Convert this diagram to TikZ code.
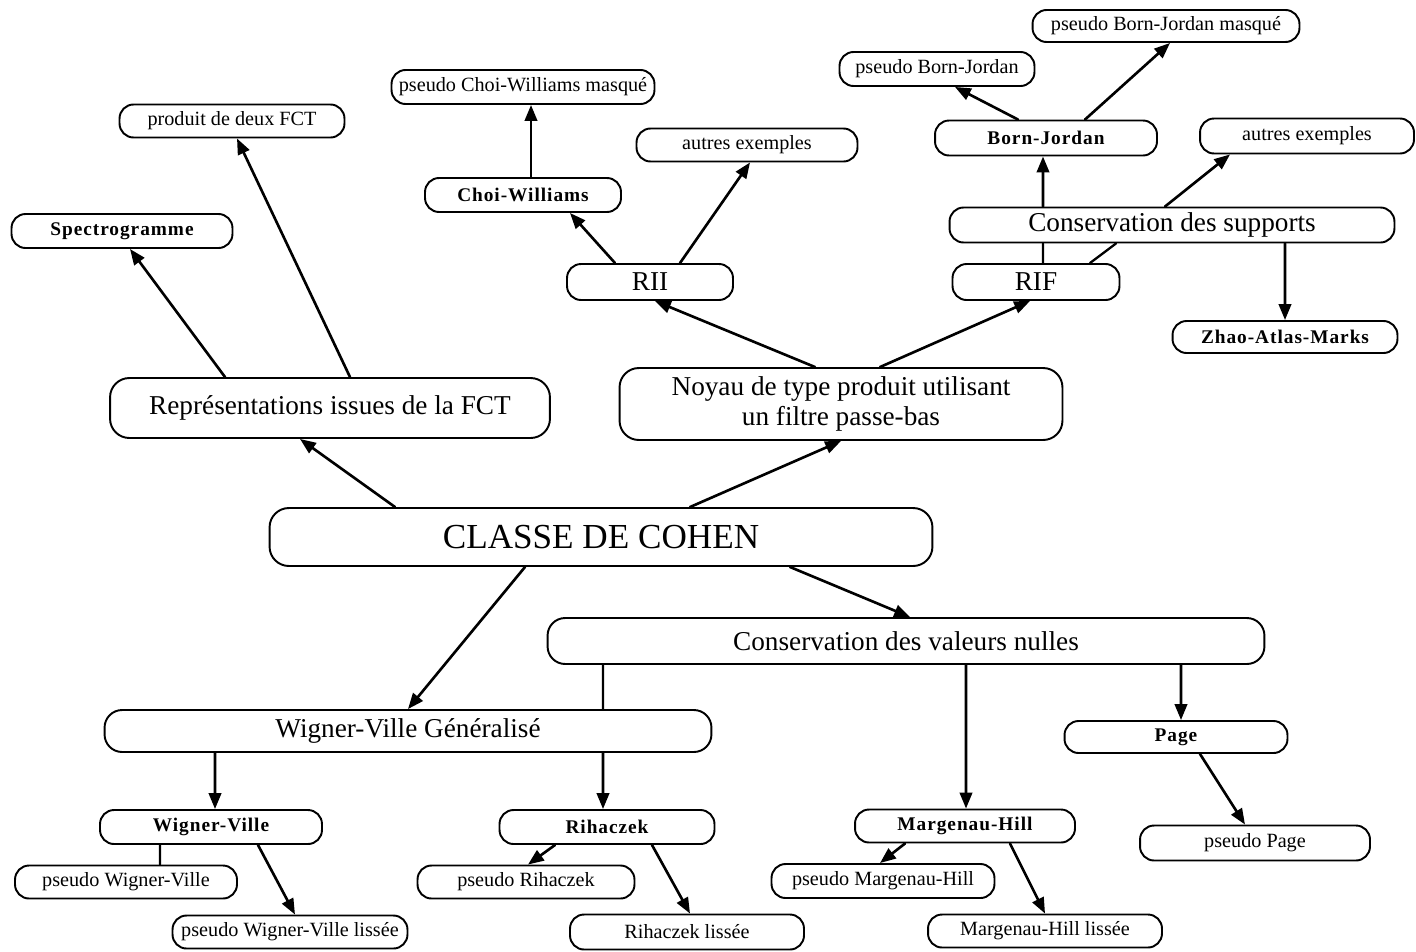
\documentclass[tikz,border=0pt]{standalone}
\usepackage{fontspec}
\setmainfont{Liberation Serif}
\newfontfamily\grasfont[LetterSpace=5]{Liberation Serif}
\usetikzlibrary{arrows.meta}

\tikzset{
	boite/.style={draw,line width=1.1pt,rounded corners=8pt,fill=white,inner sep=0pt,align=center},
	petit/.style={boite,font=\fontsize{11.5}{13}\selectfont},
	gras/.style={boite,font=\grasfont\bfseries\fontsize{11}{13}\selectfont},
	grand/.style={boite,font=\fontsize{15.5}{17.5}\selectfont},
	fleche/.style={-{Triangle[length=9pt,width=7pt]},line width=1.5pt},
	trait/.style={line width=1.3pt}
}

\begin{document}
\begin{tikzpicture}[line cap=round,line join=round,x=0.02cm,y=-0.02cm]
			\useasboundingbox (0,0) rectangle (1416,951);
			%%%%%%%%%%%%%%% B O I T E S %%%%%%%%%%%%%%%%
			%racine
			\node[grand,font=\fontsize{20}{22}\selectfont,minimum width=13.26cm,minimum height=1.16cm,rounded corners=11pt] (cohen) at (601,537) {CLASSE DE COHEN};
			%niveau 1
			\node[grand,minimum width=8.8cm,minimum height=1.2cm,rounded corners=11pt] (rep) at (330,408) {Représentations issues de la FCT};
			\node[grand,minimum width=8.86cm,minimum height=1.44cm,rounded corners=11pt] (noyau) at (841,404) {Noyau de type produit utilisant\\un filtre passe-bas};
			\node[grand,minimum width=14.34cm,minimum height=0.92cm,rounded corners=10pt] (vn) at (906,641) {Conservation des valeurs nulles};
			\node[grand,minimum width=12.14cm,minimum height=0.84cm,rounded corners=10pt] (wvg) at (408,731) {Wigner-Ville Généralisé};
			%FCT
			\node[gras,minimum width=4.42cm,minimum height=0.68cm] (spec) at (122,231) {Spectrogramme};
			\node[petit,minimum width=4.5cm,minimum height=0.66cm] (prod) at (232,121) {produit de deux FCT};
			%RII
			\node[grand,minimum width=3.32cm,minimum height=0.72cm] (rii) at (650,282) {RII};
			\node[gras,minimum width=3.92cm,minimum height=0.68cm] (cw) at (523,195) {Choi-Williams};
			\node[petit,minimum width=5.26cm,minimum height=0.68cm] (pcwm) at (523,87) {pseudo Choi-Williams masqué};
			\node[petit,minimum width=4.42cm,minimum height=0.66cm] (ae1) at (747,145) {autres exemples};
			%RIF
			\node[grand,minimum width=3.34cm,minimum height=0.72cm] (rif) at (1036,282) {RIF};
			\node[grand,minimum width=8.9cm,minimum height=0.7cm] (cs) at (1172,225) {Conservation des supports};
			\node[gras,minimum width=4.44cm,minimum height=0.7cm] (bj) at (1046,138) {Born-Jordan};
			\node[petit,minimum width=3.9cm,minimum height=0.68cm] (pbj) at (937,69) {pseudo Born-Jordan};
			\node[petit,minimum width=5.34cm,minimum height=0.64cm] (pbjm) at (1166,26) {pseudo Born-Jordan masqué};
			\node[petit,minimum width=4.28cm,minimum height=0.7cm] (ae2) at (1307,136) {autres exemples};
			\node[gras,minimum width=4.5cm,minimum height=0.64cm] (zam) at (1285,337) {Zhao-Atlas-Marks};
			%valeurs nulles
			\node[gras,minimum width=4.46cm,minimum height=0.64cm] (page) at (1176,737) {Page};
			\node[petit,minimum width=4.6cm,minimum height=0.7cm] (ppage) at (1255,843) {pseudo Page};
			\node[gras,minimum width=4.4cm,minimum height=0.66cm] (mh) at (965,826) {Margenau-Hill};
			\node[petit,minimum width=4.46cm,minimum height=0.68cm] (pmh) at (883,881) {pseudo Margenau-Hill};
			\node[petit,minimum width=4.68cm,minimum height=0.66cm] (mhl) at (1045,931) {Margenau-Hill lissée};
			\node[gras,minimum width=4.3cm,minimum height=0.68cm] (rih) at (607,827) {Rihaczek};
			\node[petit,minimum width=4.34cm,minimum height=0.66cm] (prih) at (526,882) {pseudo Rihaczek};
			\node[petit,minimum width=4.68cm,minimum height=0.7cm] (rihl) at (687,932) {Rihaczek lissée};
			%Wigner-Ville
			\node[gras,minimum width=4.44cm,minimum height=0.68cm] (wv) at (211,827) {Wigner-Ville};
			\node[petit,minimum width=4.44cm,minimum height=0.66cm] (pwv) at (126,882) {pseudo Wigner-Ville};
			\node[petit,minimum width=4.7cm,minimum height=0.66cm] (pwvl) at (290,932) {pseudo Wigner-Ville lissée};
			%%%%%%%%%%%%%%% F L E C H E S %%%%%%%%%%%%%%%%
			%cohen
			\draw[fleche] ([xshift=-4.12cm]cohen.north) -- ([xshift=-0.6cm]rep.south);
			\draw[fleche] ([xshift=1.78cm]cohen.north) -- (noyau.south);
			\draw[fleche] ([xshift=-1.52cm]cohen.south) -- (wvg.north);
			\draw[fleche] ([xshift=3.78cm]cohen.south) -- ([xshift=0.08cm]vn.north);
			%FCT
			\draw[fleche] ([xshift=-2.1cm]rep.north) -- ([xshift=0.16cm]spec.south);
			\draw[fleche] ([xshift=0.4cm]rep.north) -- ([xshift=0.1cm]prod.south);
			%noyau
			\draw[fleche] ([xshift=-0.52cm]noyau.north) -- ([xshift=0.1cm]rii.south);
			\draw[fleche] ([xshift=0.78cm]noyau.north) -- ([xshift=-0.12cm]rif.south);
			%RII
			\draw[fleche] ([xshift=-0.7cm]rii.north) -- ([xshift=0.94cm]cw.south);
			\draw[fleche] ([xshift=0.6cm]rii.north) -- ([xshift=0.06cm]ae1.south);
			\draw[fleche] ([xshift=0.16cm]cw.north) -- ([xshift=0.16cm]pcwm.south);
			%RIF
			\draw[trait] ([xshift=0.14cm]rif.north) -- ([xshift=-2.58cm]cs.south);
			\draw[fleche] ([xshift=-2.58cm]cs.north) -- ([xshift=-0.06cm]bj.south);
			\draw[trait] ([xshift=1.08cm]rif.north) -- ([xshift=-1.12cm]cs.south);
			\draw[fleche] ([xshift=-0.14cm]cs.north) -- ([xshift=-1.54cm]ae2.south);
			\draw[fleche] ([xshift=2.26cm]cs.south) -- (zam.north);
			\draw[fleche] ([xshift=-0.56cm]bj.north) -- ([xshift=0.36cm]pbj.south);
			\draw[fleche] ([xshift=0.78cm]bj.north) -- ([xshift=0.08cm]pbjm.south);
			%valeurs nulles
			\draw[trait] ([xshift=-6.06cm]vn.south) -- ([xshift=3.9cm]wvg.north);
			\draw[fleche] ([xshift=3.9cm]wvg.south) -- ([xshift=-0.08cm]rih.north);
			\draw[fleche] ([xshift=1.2cm]vn.south) -- ([xshift=0.02cm]mh.north);
			\draw[fleche] ([xshift=5.5cm]vn.south) -- ([xshift=0.1cm]page.north);
			\draw[fleche] ([xshift=0.48cm]page.south) -- ([xshift=-0.2cm]ppage.north);
			%Wigner-Ville
			\draw[fleche] ([xshift=-3.86cm]wvg.south) -- ([xshift=0.08cm]wv.north);
			\draw[trait] ([xshift=-1.02cm]wv.south) -- ([xshift=0.68cm]pwv.north);
			\draw[fleche] ([xshift=0.94cm]wv.south) -- ([xshift=0.1cm]pwvl.north);
			%Rihaczek
			\draw[fleche] ([xshift=-1.04cm]rih.south) -- ([xshift=0.04cm]prih.north);
			\draw[fleche] ([xshift=0.9cm]rih.south) -- ([xshift=0.06cm]rihl.north);
			%Margenau-Hill
			\draw[fleche] ([xshift=-1.2cm]mh.south) -- ([xshift=-0.06cm]pmh.north);
			\draw[fleche] ([xshift=0.9cm]mh.south) -- (mhl.north);
		\end{tikzpicture}
\end{document}
